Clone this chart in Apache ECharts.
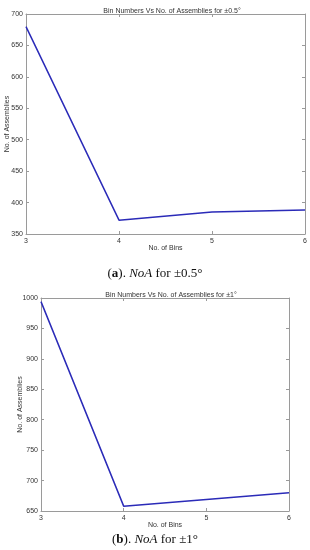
<!DOCTYPE html>
<html><head><meta charset="utf-8">
<script src="https://cdn.jsdelivr.net/npm/echarts@6/dist/echarts.min.js"></script>
<style>html,body{margin:0;padding:0;background:#fff}#c{width:310px;height:550px}</style>
</head><body><div id="c"></div>
<script>
const bins = [3, 4, 5, 6];
const assembliesA = [680, 372, 385, 388];
const assembliesB = [994, 658, 669, 680];
const titleA = 'Bin Numbers Vs No. of Assemblies for ±0.5°';
const titleB = 'Bin Numbers Vs No. of Assemblies for ±1°';
const xName = 'No. of Bins';
const yName = 'No. of Assemblies';

const axisCol = '#9a9a9a';
const labelCol = '#333';
const font = 'Liberation Sans, Arial, sans-serif';

function xAxes(gi) {
  const base = {type:'value', gridIndex:gi, min:3, max:6, interval:1,
    splitLine:{show:false},
    axisLine:{show:true, onZero:false, lineStyle:{color:axisCol, width:1}},
    axisTick:{show:true, inside:true, length:3, lineStyle:{color:axisCol}}};
  return [
    Object.assign({}, base, {position:'bottom',
      axisLabel:{show:true, color:labelCol, fontSize:7, fontFamily:font, margin:4},
      name:xName, nameLocation:'middle', nameGap:11, nameMoveOverlap:false,
      nameTextStyle:{color:labelCol, fontSize:7, fontFamily:font}}),
    Object.assign({}, base, {position:'top', axisLabel:{show:false}})
  ];
}
function yAxes(gi, mn, mx, gap) {
  const base = {type:'value', gridIndex:gi, min:mn, max:mx, interval:50,
    splitLine:{show:false},
    axisLine:{show:true, onZero:false, lineStyle:{color:axisCol, width:1}},
    axisTick:{show:true, inside:true, length:3, lineStyle:{color:axisCol}}};
  return [
    Object.assign({}, base, {position:'left',
      axisLabel:{show:true, color:labelCol, fontSize:7, fontFamily:font, margin:3,
        formatter:v=>String(v)},
      name:yName, nameLocation:'middle', nameGap:gap, nameMoveOverlap:false,
      nameTextStyle:{color:labelCol, fontSize:7, fontFamily:font}}),
    Object.assign({}, base, {position:'right', axisLabel:{show:false}})
  ];
}

const chart = echarts.init(document.getElementById('c'), null, {renderer:'canvas'});
chart.setOption({
  animation:false,
  backgroundColor:'#fff',
  title:[
    {text:titleA, left:167, top:3, textAlign:'center',
      textStyle:{fontSize:7, fontWeight:'normal', color:'#333', fontFamily:font}},
    {text:titleB, left:166, top:287, textAlign:'center',
      textStyle:{fontSize:7, fontWeight:'normal', color:'#333', fontFamily:font}}
  ],
  grid:[
    {left:26, top:14, width:279, height:220, containLabel:false, outerBoundsMode:'none'},
    {left:41, top:298, width:248, height:213, containLabel:false, outerBoundsMode:'none'}
  ],
  xAxis:[...xAxes(0), ...xAxes(1)],
  yAxis:[...yAxes(0, 350, 700, 15), ...yAxes(1, 650, 1000, 17)],
  series:[
    {type:'line', xAxisIndex:0, yAxisIndex:0, data:bins.map((b,i)=>[b, assembliesA[i]]),
      showSymbol:false, lineStyle:{color:'#2b2bb8', width:1.5}},
    {type:'line', xAxisIndex:2, yAxisIndex:2, data:bins.map((b,i)=>[b, assembliesB[i]]),
      showSymbol:false, lineStyle:{color:'#2b2bb8', width:1.5}}
  ],
  graphic:[
    {type:'text', left:'center', top:267, style:{
      text:'({b|a}). {i|NoA} for ±0.5°',
      font:'13px "Liberation Serif", "Times New Roman", serif', fill:'#111',
      rich:{b:{fontWeight:'bold', fontSize:13, fontFamily:'Liberation Serif'},
            i:{fontStyle:'italic', fontSize:13, fontFamily:'Liberation Serif'}}}},
    {type:'text', left:'center', top:533, style:{
      text:'({b|b}). {i|NoA} for ±1°',
      font:'13px "Liberation Serif", "Times New Roman", serif', fill:'#111',
      rich:{b:{fontWeight:'bold', fontSize:13, fontFamily:'Liberation Serif'},
            i:{fontStyle:'italic', fontSize:13, fontFamily:'Liberation Serif'}}}}
  ]
});
</script></body></html>
